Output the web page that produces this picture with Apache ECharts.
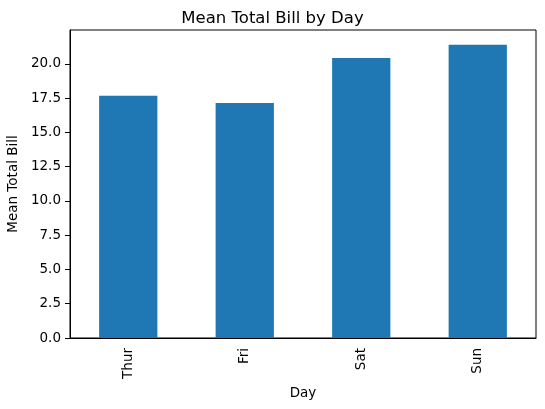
<!DOCTYPE html>
<html>
<head>
<meta charset="utf-8">
<script src="https://cdn.jsdelivr.net/npm/echarts@6/dist/echarts.min.js"></script>
<style>
  html, body { margin: 0; padding: 0; background: #fff; }
  #myChart { width: 545px; height: 409px; }
</style>
</head>
<body>
<div id="myChart"></div>
<script>
  // data
  const days = ['Thur', 'Fri', 'Sat', 'Sun']
  const meanBill = [17.68, 17.15, 20.44, 21.41]
  const yTicks = [0, 2.5, 5, 7.5, 10, 12.5, 15, 17.5, 20]
  const yMax = 22.48

  const font = 'DejaVu Sans'
  let myChart = echarts.init(document.getElementById('myChart'))
  myChart.setOption({
    animation: false,
    textStyle: { fontFamily: font },
    title: {
      text: 'Mean Total Bill by Day',
      left: 'center',
      top: 5,
      textStyle: { fontFamily: font, fontSize: 16.5, fontWeight: 'normal', color: '#000' }
    },
    grid: {
      left: 70, right: 9, top: 30, bottom: 71,
      show: true, borderColor: '#000', borderWidth: 1,
      containLabel: false,
      outerBoundsMode: 'none'
    },
    xAxis: {
      type: 'category',
      data: days,
      name: 'Day',
      nameLocation: 'middle',
      nameGap: 46,
      nameTextStyle: { fontFamily: font, fontSize: 13.5, color: '#000' },
      axisLine: { lineStyle: { color: '#000', width: 1 } },
      axisTick: { alignWithLabel: true, length: 5, lineStyle: { color: '#000' } },
      axisLabel: { rotate: 90, margin: 10, fontFamily: font, fontSize: 13.5, color: '#000' }
    },
    yAxis: {
      type: 'value',
      min: 0,
      max: yMax,
      name: 'Mean Total Bill',
      nameLocation: 'middle',
      nameGap: 47,
      nameTextStyle: { fontFamily: font, fontSize: 13.5, color: '#000' },
      splitLine: { show: false },
      axisLine: { show: true, lineStyle: { color: '#000', width: 1 } },
      axisTick: { show: true, length: 5, lineStyle: { color: '#000' }, customValues: yTicks },
      axisLabel: {
        margin: 9, fontFamily: font, fontSize: 13.5, color: '#000',
        customValues: yTicks,
        formatter: function(v) { return v.toFixed(1) }
      }
    },
    series: [{
      type: 'bar',
      data: meanBill,
      barWidth: '50%',
      itemStyle: { color: '#1f77b4' }
    }]
  })
</script>
</body>
</html>
